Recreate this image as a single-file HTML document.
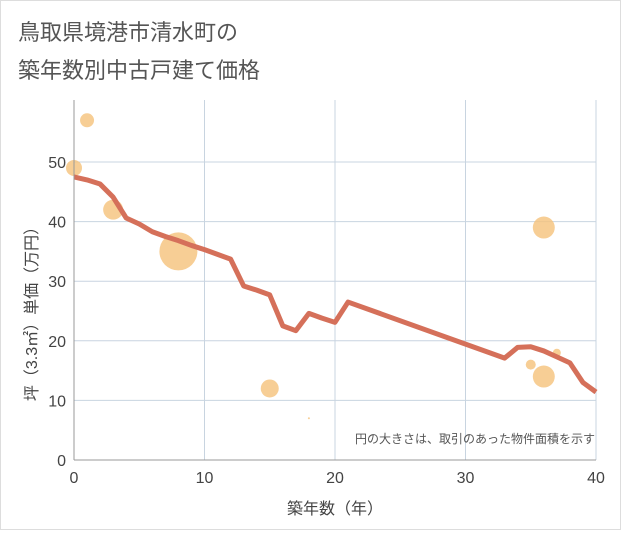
<!DOCTYPE html>
<html><head><meta charset="utf-8"><style>
body{margin:0;background:#fff;font-family:"Liberation Sans","Noto Sans CJK JP",sans-serif}
</style></head><body>
<svg width="621" height="530" xmlns="http://www.w3.org/2000/svg">
<rect x="0.5" y="0.5" width="620" height="529" fill="#fff" stroke="#ddd"/>
<text x="18" y="40" font-size="22" fill="#555">鳥取県境港市清水町の</text>
<text x="18" y="78" font-size="22" fill="#555">築年数別中古戸建て価格</text>
<g id="grid"></g><g id="bubbles"></g><g id="line"></g><g id="axes"></g>
<text x="595" y="443" font-size="12" fill="#555" text-anchor="end">円の大きさは、取引のあった物件面積を示す</text>
<text x="335" y="514" font-size="16" fill="#444" text-anchor="middle">築年数（年）</text>
<text transform="translate(37,310) rotate(-90)" font-size="16" fill="#444" text-anchor="middle">坪（3.3㎡）単価（万円）</text>
</svg>
<script>
const xTicks=[0,10,20,30,40];
const yTicks=[0,10,20,30,40,50];
const lineX=[0,1,2,3,4,5,6,7,8,9,10,11,12,13,14,15,16,17,18,19,20,21,33,34,35,36,37,38,39,40];
const lineY=[47.5,47,46.3,44.1,40.6,39.6,38.3,37.5,36.8,36,35.3,34.5,33.7,29.2,28.5,27.7,22.5,21.7,24.6,23.8,23.1,26.5,17.1,18.9,19,18.3,17.3,16.3,13,11.4];
const bubX=[0,1,3,8,15,18,36,35,36,37];
const bubY=[49,57,42,35,12,7,39,16,14,18];
const bubR=[8,7,10,19,9,1,11,5,11,4];
const ns="http://www.w3.org/2000/svg";
const X=v=>74+v*(596-74)/40, Y=v=>460-v*5.96;
function mk(t,a,p){const e=document.createElementNS(ns,t);for(const k in a)e.setAttribute(k,a[k]);p.appendChild(e);return e;}
const g=document.getElementById('grid'),ax=document.getElementById('axes');
xTicks.forEach(v=>{const l=mk('line',{x1:X(v),x2:X(v),y1:100,y2:460,stroke:'#c8d4e0'},g);

const t=mk('text',{x:X(v),y:483,'font-size':16,fill:'#444','text-anchor':'middle'},ax);t.textContent=v;
});
yTicks.forEach(v=>{const l=mk('line',{x1:74,x2:596,y1:Y(v),y2:Y(v),stroke:'#c8d4e0'},g);

const t=mk('text',{x:66,y:Y(v)+6,'font-size':16,fill:'#444','text-anchor':'end'},ax);t.textContent=v;
});
const a1=mk('line',{x1:74,x2:74,y1:100,y2:460,stroke:'#999'},ax);
const a2=mk('line',{x1:74,x2:596,y1:460,y2:460,stroke:'#999'},ax);
const b=document.getElementById('bubbles');
bubX.forEach((v,i)=>{const c=mk('circle',{cx:X(v),cy:Y(bubY[i]),r:bubR[i],fill:'#f5c27a','fill-opacity':0.8},b);
});
const p=mk('polyline',{points:lineX.map((v,i)=>X(v)+','+Y(lineY[i])).join(' '),fill:'none',stroke:'#d5705a','stroke-width':5,'stroke-linejoin':'round'},document.getElementById('line'));

</script>
</body></html>
